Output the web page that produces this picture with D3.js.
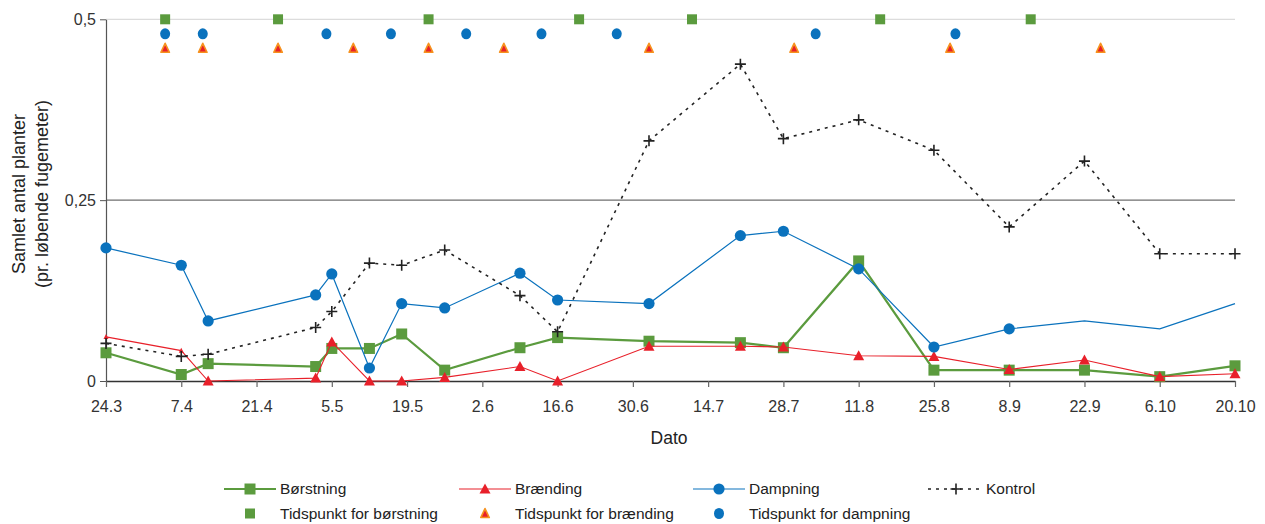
<!DOCTYPE html>
<html>
<head>
<meta charset="utf-8">
<script src="https://cdn.jsdelivr.net/npm/d3@7"></script>
<style>
  html, body { margin: 0; padding: 0; background: #fff; }
  svg { display: block; font-family: "Liberation Sans", Arial, sans-serif; }
</style>
</head>
<body>
<svg id="chart" width="1265" height="524"></svg>
<script>
// Sampling dates (day.month) shared by all four series
const sampleDates = ["24.3","7.4","12.4","2.5","5.5","12.5","18.5","26.5","9.6","16.6","3.7","20.7","28.7","11.8","25.8","8.9","22.9","6.10","20.10"];
const borstning  = [0.039,0.009,0.024,0.020,0.045,0.045,0.065,0.015,0.046,0.060,0.055,0.053,0.046,0.166,0.015,0.015,0.015,0.006,0.021];
const braending  = [0.061,0.042,0.000,0.004,0.054,0.000,0.000,0.005,0.020,0.000,0.048,0.048,0.047,0.035,0.034,0.016,0.029,0.006,0.010];
const dampning   = [0.184,0.160,0.083,0.119,0.148,0.018,0.107,0.101,0.149,0.112,0.107,0.201,0.207,0.155,0.047,0.072,0.083,0.072,0.107];
const kontrol    = [0.052,0.034,0.037,0.074,0.096,0.163,0.160,0.181,0.118,0.068,0.332,0.438,0.335,0.361,0.319,0.213,0.304,0.176,0.176];
// Dampning has markers only on its measured points; Brænding's first two are small markers
const dampningMarked = 16;
const braendingSmall = 2;

// Treatment dates, drawn as a row of markers near the top
const borstTimes  = ["4.4","25.4","23.5","20.6","11.7","15.8","12.9"];
const dampTimes   = ["4.4","11.4","4.5","16.5","30.5","13.6","27.6","3.8","29.8"];
const braendTimes = ["4.4","11.4","25.4","9.5","23.5","6.6","3.7","30.7","28.8","25.9"];
const timeRowLevels = { borst: 0.5, damp: 0.48, braend: 0.46 };

// Axis ticks
const xTickLabels = ["24.3","7.4","21.4","5.5","19.5","2.6","16.6","30.6","14.7","28.7","11.8","25.8","8.9","22.9","6.10","20.10"];
const yTicks = [0, 0.25, 0.5];

const YEAR = 2010;
const parseDM = s => { const [d, m] = s.split(".").map(Number); return new Date(YEAR, m - 1, d); };
const fmtDM = d3.timeFormat("%-d.%-m");
const locale = d3.formatLocale({ decimal: ",", thousands: ".", grouping: [3], currency: ["", " kr"] });
const fmtY = v => v === 0 ? "0" : locale.format("")(v);

const GREEN = "#5b9b3e", RED = "#e8202a", BLUE = "#0a72bd", ORANGE = "#f6921e";

const svg = d3.select("#chart");
const plotLeft = 106, plotRight = 1235, plotTop = 19.3, plotBottom = 381;

const x = d3.scaleTime()
  .domain([parseDM(xTickLabels[0]), parseDM(xTickLabels[xTickLabels.length - 1])])
  .range([plotLeft, plotRight]);
const y = d3.scaleLinear().domain([0, 0.5]).range([plotBottom, plotTop]);

// Horizontal reference lines
svg.append("g").selectAll("line").data(yTicks.filter(v => v > 0)).join("line")
  .attr("x1", plotLeft).attr("x2", plotRight)
  .attr("y1", d => y(d)).attr("y2", d => y(d))
  .attr("stroke", d => d === 0.5 ? "#dcdcdc" : "#6f6f6f")
  .attr("stroke-width", d => d === 0.5 ? 1.2 : 1.4);

// Y axis
const yAxis = svg.append("g").attr("transform", `translate(${plotLeft},0)`)
  .call(d3.axisLeft(y).tickValues(yTicks).tickFormat(fmtY).tickSize(6).tickSizeOuter(0).tickPadding(4));
yAxis.select(".domain").attr("stroke", "#555").attr("stroke-width", 1.2);
yAxis.selectAll(".tick line").attr("stroke", "#555");
yAxis.selectAll(".tick text").attr("font-size", 16).attr("fill", "#333")
  .attr("font-family", "'Liberation Sans', Arial, sans-serif");

// X axis
const xAxis = svg.append("g").attr("transform", `translate(0,${plotBottom})`)
  .call(d3.axisBottom(x).tickValues(xTickLabels.map(parseDM)).tickFormat(fmtDM).tickSize(6).tickSizeOuter(0).tickPadding(14));
xAxis.select(".domain").attr("stroke", "#333").attr("stroke-width", 1.4);
xAxis.selectAll(".tick line").attr("stroke", "#666").attr("stroke-width", 1.2);
xAxis.selectAll(".tick text").attr("font-size", 16).attr("fill", "#333")
  .attr("font-family", "'Liberation Sans', Arial, sans-serif");

// Axis titles
svg.append("text").attr("x", 669).attr("y", 443.5).attr("text-anchor", "middle")
  .attr("font-size", 17.5).attr("fill", "#222").text("Dato");
const yt = svg.append("text").attr("transform", "translate(25,194) rotate(-90)")
  .attr("text-anchor", "middle").attr("font-size", 18).attr("fill", "#222");
yt.append("tspan").attr("x", 0).attr("dy", 0).text("Samlet antal planter");
yt.append("tspan").attr("x", 0).attr("dy", 23).text("(pr. løbende fugemeter)");

// Marker shapes
const squarePath = s => `M${-s/2},${-s/2}h${s}v${s}h${-s}Z`;
const triPath = (w, h) => `M0,${-h*0.55}L${w/2},${h*0.45}L${-w/2},${h*0.45}Z`;
const plusPath = s => `M${-s/2},0H${s/2}M0,${-s/2}V${s/2}`;

const pts = vals => vals.map((v, i) => ({ d: parseDM(sampleDates[i]), v, i }));
const line = d3.line().x(p => x(p.d)).y(p => y(p.v));

const plot = svg.append("g");

// Børstning
plot.append("path").datum(pts(borstning)).attr("d", line)
  .attr("fill", "none").attr("stroke", GREEN).attr("stroke-width", 2.2);
plot.append("g").selectAll("path").data(pts(borstning)).join("path")
  .attr("transform", p => `translate(${x(p.d)},${y(p.v)})`)
  .attr("d", squarePath(11)).attr("fill", GREEN);

// Brænding
plot.append("path").datum(pts(braending)).attr("d", line)
  .attr("fill", "none").attr("stroke", RED).attr("stroke-width", 1.1);
plot.append("g").selectAll("path").data(pts(braending)).join("path")
  .attr("transform", p => `translate(${x(p.d)},${y(p.v)})`)
  .attr("d", p => p.i < braendingSmall ? triPath(5, 5) : triPath(11, 10)).attr("fill", RED);

// Dampning
plot.append("path").datum(pts(dampning)).attr("d", line)
  .attr("fill", "none").attr("stroke", BLUE).attr("stroke-width", 1.2);
plot.append("g").selectAll("circle").data(pts(dampning).filter(p => p.i < dampningMarked)).join("circle")
  .attr("cx", p => x(p.d)).attr("cy", p => y(p.v)).attr("r", 5.6).attr("fill", BLUE);

// Kontrol
plot.append("path").datum(pts(kontrol)).attr("d", line)
  .attr("fill", "none").attr("stroke", "#222").attr("stroke-width", 1.6).attr("stroke-dasharray", "3,5");
plot.append("g").selectAll("path").data(pts(kontrol)).join("path")
  .attr("transform", p => `translate(${x(p.d)},${y(p.v)})`)
  .attr("d", plusPath(11)).attr("stroke", "#222").attr("stroke-width", 1.6).attr("fill", "none");

// Treatment date markers
const timeRow = plot.append("g");
timeRow.append("g").selectAll("path").data(borstTimes).join("path")
  .attr("transform", s => `translate(${x(parseDM(s))},${y(timeRowLevels.borst)})`)
  .attr("d", squarePath(10)).attr("fill", GREEN);
timeRow.append("g").selectAll("ellipse").data(dampTimes).join("ellipse")
  .attr("cx", s => x(parseDM(s))).attr("cy", y(timeRowLevels.damp))
  .attr("rx", 5).attr("ry", 5.5).attr("fill", BLUE);
timeRow.append("g").selectAll("path").data(braendTimes).join("path")
  .attr("transform", s => `translate(${x(parseDM(s))},${y(timeRowLevels.braend)})`)
  .attr("d", triPath(8.5, 9)).attr("fill", RED).attr("stroke", ORANGE).attr("stroke-width", 1.6)
  .attr("stroke-linejoin", "round");

// Legend
const legend = svg.append("g").attr("font-size", 15.5).attr("fill", "#222");
const row1 = 489, row2 = 513.5;
const items = [
  { x: 224, kind: "borst",  label: "Børstning" },
  { x: 459, kind: "braend", label: "Brænding" },
  { x: 693, kind: "damp",   label: "Dampning" },
  { x: 928, kind: "kontrol",label: "Kontrol" }
];
items.forEach(it => {
  const g = legend.append("g").attr("transform", `translate(${it.x},${row1})`);
  const mid = 26;
  if (it.kind === "kontrol") {
    g.append("line").attr("x1", 0).attr("x2", 56).attr("stroke", "#222")
      .attr("stroke-width", 1.6).attr("stroke-dasharray", "3,5");
    g.append("path").attr("transform", `translate(${28},0)`).attr("d", plusPath(11))
      .attr("stroke", "#222").attr("stroke-width", 1.6);
    g.append("text").attr("x", 58).attr("dy", "0.35em").text(it.label);
    return;
  }
  const col = it.kind === "borst" ? GREEN : it.kind === "braend" ? RED : BLUE;
  g.append("line").attr("x1", 0).attr("x2", 52).attr("stroke", col)
    .attr("stroke-width", it.kind === "borst" ? 2.2 : 1.2);
  if (it.kind === "borst") g.append("path").attr("transform", `translate(${mid},0)`).attr("d", squarePath(11)).attr("fill", col);
  if (it.kind === "braend") g.append("path").attr("transform", `translate(${mid},0)`).attr("d", triPath(11, 10)).attr("fill", col);
  if (it.kind === "damp") g.append("circle").attr("cx", mid).attr("r", 5.6).attr("fill", col);
  g.append("text").attr("x", 56).attr("dy", "0.35em").text(it.label);
});
const items2 = [
  { x: 224, kind: "borst",  label: "Tidspunkt for børstning" },
  { x: 459, kind: "braend", label: "Tidspunkt for brænding" },
  { x: 693, kind: "damp",   label: "Tidspunkt for dampning" }
];
items2.forEach(it => {
  const g = legend.append("g").attr("transform", `translate(${it.x},${row2})`);
  const mid = 26;
  if (it.kind === "borst") g.append("path").attr("transform", `translate(${mid},0)`).attr("d", squarePath(10)).attr("fill", GREEN);
  if (it.kind === "braend") g.append("path").attr("transform", `translate(${mid},0)`).attr("d", triPath(8.5, 9))
    .attr("fill", RED).attr("stroke", ORANGE).attr("stroke-width", 1.6).attr("stroke-linejoin", "round");
  if (it.kind === "damp") g.append("ellipse").attr("cx", mid).attr("rx", 5).attr("ry", 5.5).attr("fill", BLUE);
  g.append("text").attr("x", 56).attr("dy", "0.35em").text(it.label);
});
</script>
</body>
</html>
